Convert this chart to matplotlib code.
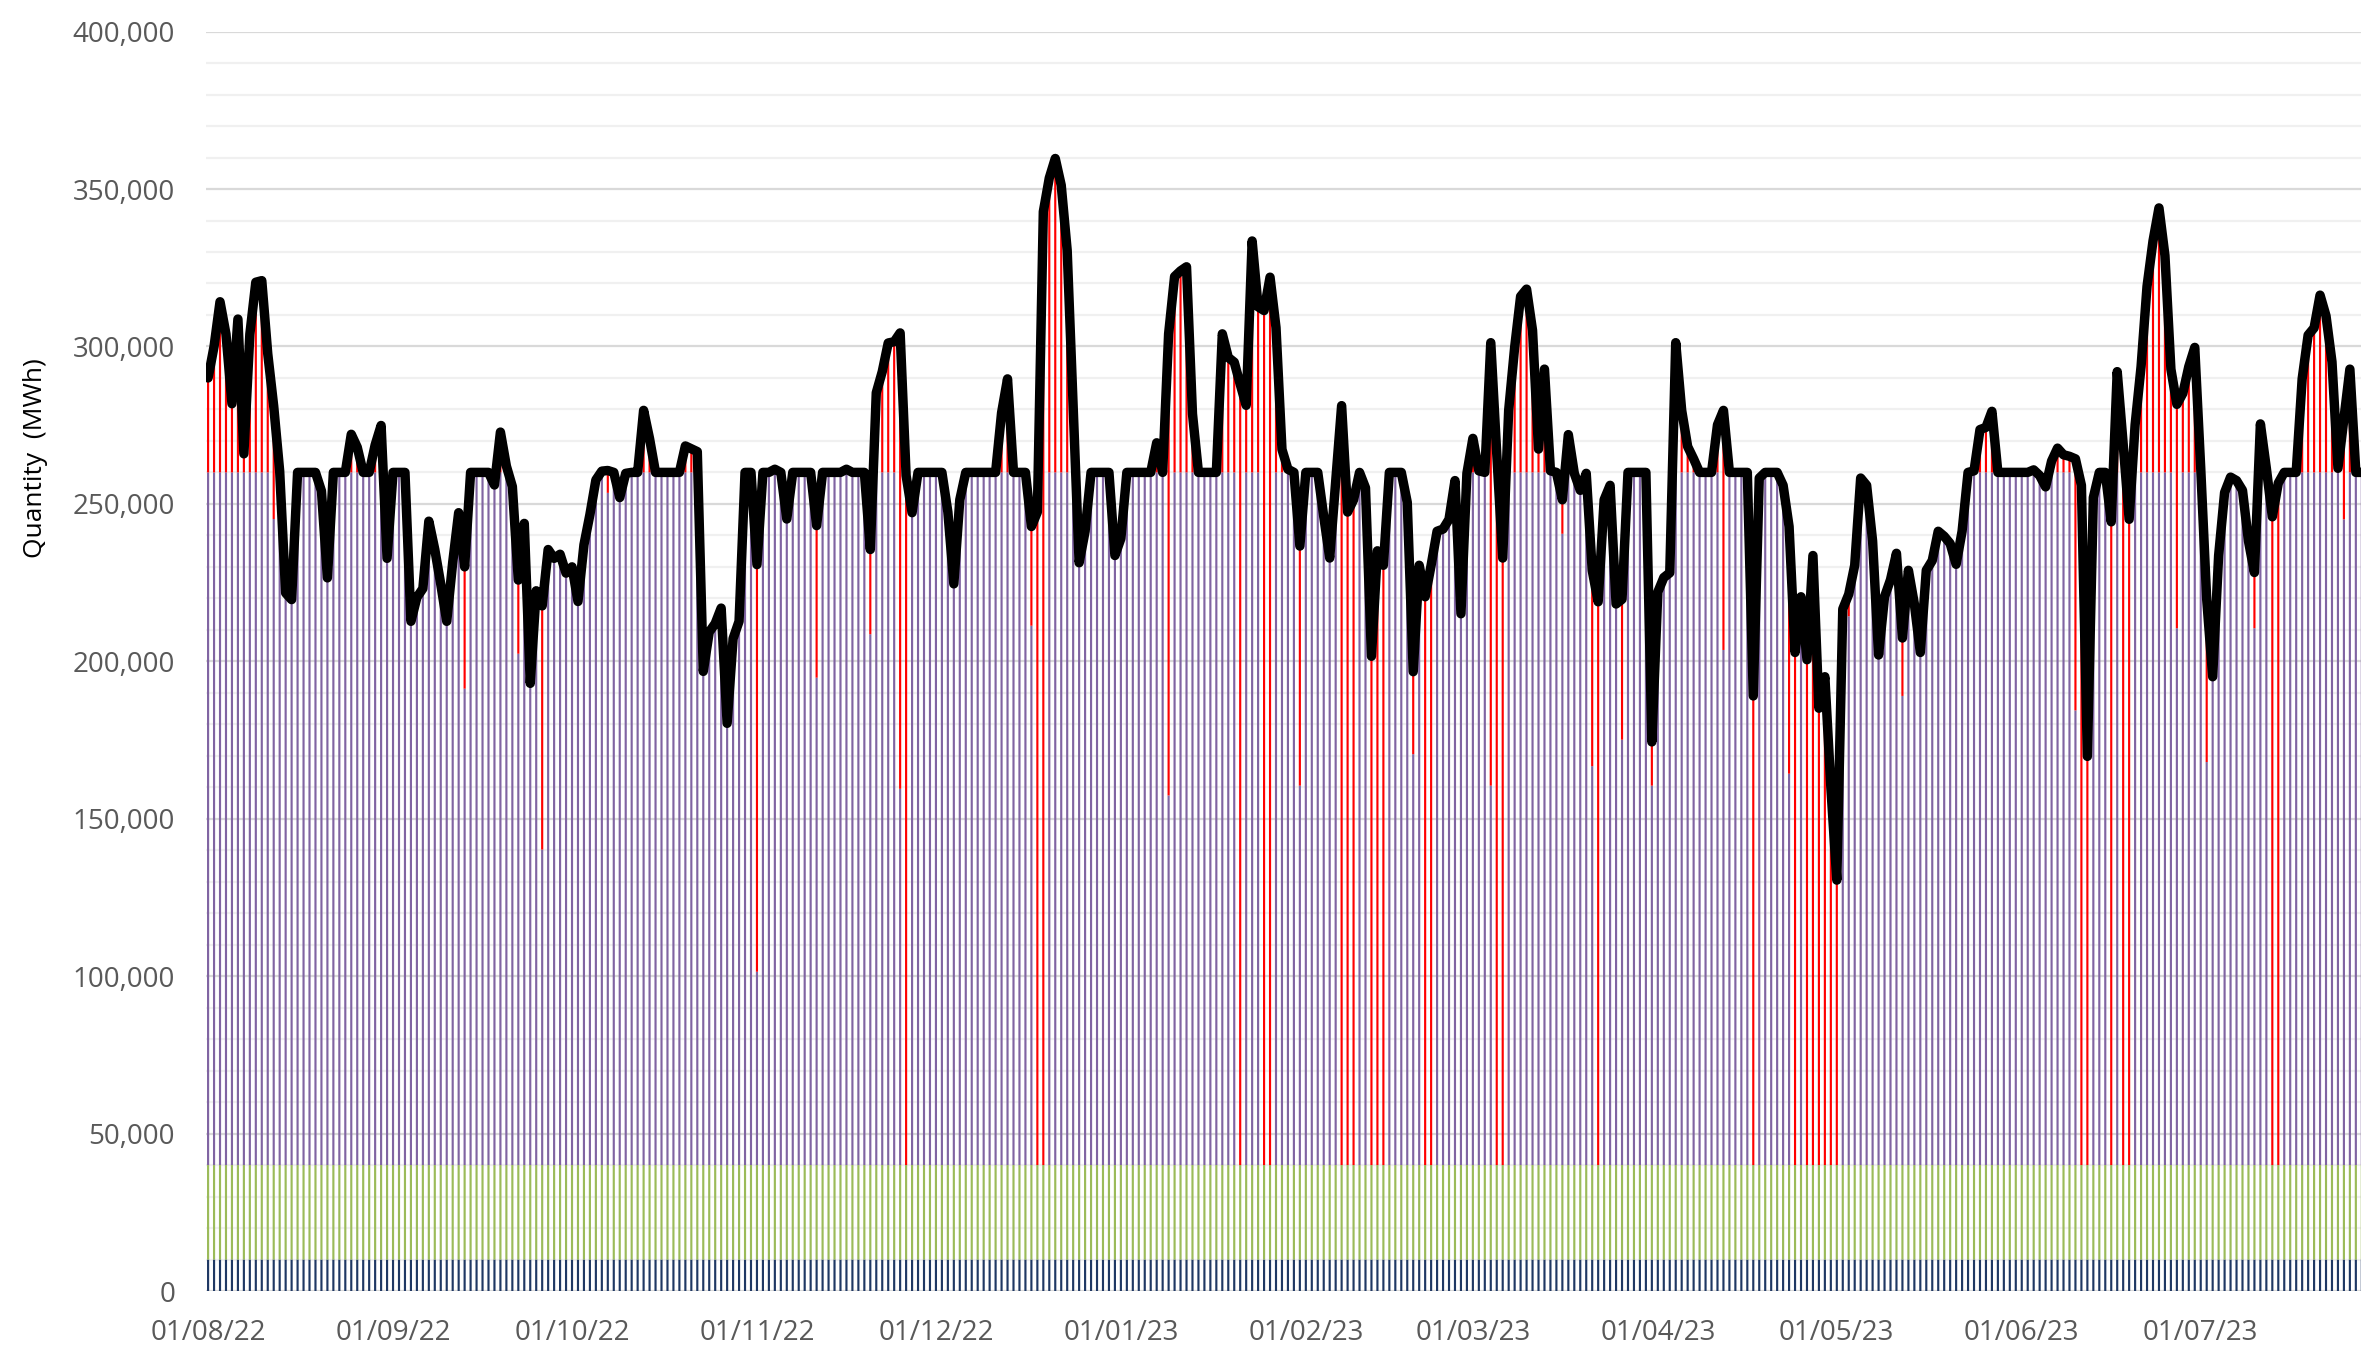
import matplotlib
matplotlib.use("Agg")
import matplotlib.pyplot as plt
import matplotlib.dates as mdates
from matplotlib.ticker import FuncFormatter, MultipleLocator
import numpy as np
import pandas as pd

# daily total quantity, thousands of MWh
aug22 = [290, 300, 314.2, 303.9, 281.8, 308.7, 265.9, 303.9, 320.4, 320.9, 297.7, 281, 260.4, 221.7,
         219.6, 260, 260, 260, 260, 254.1, 226.5, 260, 260, 260, 272.1, 268, 260, 260, 268.7, 274.9, 232.7]
sep22 = [260, 260, 260, 212.7, 220.3, 223.1, 244.5, 235.5, 224.5, 212.7, 231.4, 247.2, 230, 260, 260,
         260, 260, 256, 272.8, 262, 255.5, 225.8, 243.8, 193, 222.4, 217.6, 235.5, 232.7, 234, 228]
oct22 = [230, 219, 237, 246.6, 257.6, 260.4, 260.6, 260, 252, 259.7, 260, 260, 279.7, 270.7, 260, 260,
         260, 260, 260, 268.4, 267.5, 266.6, 196.8, 209.3, 212, 216.9, 180.3, 207.2, 212.7, 260, 260]
nov22 = [230.7, 260, 260, 261, 260, 245.2, 260, 260, 260, 260, 243.1, 260, 260, 260, 260, 261, 260, 260,
         260, 235.5, 285.3, 292, 301.1, 301.5, 304.3, 259, 247.2, 260, 260, 260]
dec22 = [260, 260, 247.4, 224.6, 251.3, 260, 260, 260, 260, 260, 260, 278.9, 289.7, 260, 260, 260, 242.8,
         247.4, 342.8, 353.5, 359.7, 351.2, 330.5, 281, 231.3, 241.3, 260, 260, 260, 260, 233.6]
jan23 = [239, 260, 260, 260, 260, 260, 269.4, 260, 304, 322.2, 324, 325.3, 278.6, 260, 260, 260, 260, 304,
         296.5, 295, 288, 281.3, 333.5, 312.6, 311.4, 322, 306, 267.3, 261, 260, 236.6]
feb23 = [260, 260, 260, 246, 232.8, 257, 281.2, 247.4, 251.3, 260, 255.1, 201.6, 235.1, 230.5, 260, 260,
         260, 250.5, 196.7, 230.5, 220.5, 230.5, 241.3, 242, 245.1, 257.4, 215.1, 259.7]
mar23 = [270.8, 260.5, 260, 301.2, 266, 232.8, 279.7, 299.7, 315.9, 318.2, 305.1, 267.4, 292.8, 260.5, 260,
         251.3, 272, 259.7, 254.3, 259.7, 228.9, 218.9, 251.3, 255.9, 218.2, 219.7, 260, 260, 260, 260, 174.4]
apr23 = [222, 226.6, 228.1, 301.2, 279.7, 268.2, 264.3, 260, 260, 260, 275.1, 279.7, 260, 260, 260, 260,
         189, 258.2, 260, 260, 260, 255.9, 242.8, 202.8, 220.5, 200.5, 233.6, 185.1, 195.1, 160]
may23 = [130.5, 216.6, 221.3, 230.5, 258.2, 255.9, 238.2, 202, 220.5, 225.9, 234.3, 207.4, 228.9, 218.2,
         202.8, 228.9, 232, 241.3, 239.7, 237.4, 230.8, 241.3, 260, 260.5, 273.6, 274.3, 279.4, 260, 260,
         260, 260]
jun23 = [260, 260, 260.8, 259, 255.4, 263.6, 267.7, 265.6, 265.1, 264.3, 255.9, 169.8, 252, 260, 260,
         244.3, 292, 269, 245.1, 275.1, 293.6, 319.1, 333.5, 344, 328.9, 292.8, 281.6, 285.1, 293.6, 299.7]
jul23 = [261.3, 219.7, 195.1, 233.6, 253.6, 258.5, 257.4, 254.3, 238.2, 228.2, 275.4, 261.3, 245.9, 256.6,
         260, 260, 260, 289.7, 303.6, 305.9, 316.3, 309.7, 295.1, 261.3, 277, 292.8, 260, 260]

# days (index from 01/08/22) where the red bar starts below 260,000: top of purple, thousands
purple_top_days = [11, 43, 52, 56, 67, 92, 102, 111, 116, 117, 138, 139, 140, 161, 173, 177, 178, 183,
                   190, 191, 192, 195, 196, 197, 202, 204, 205, 215, 216, 217, 227, 232, 233, 237, 242,
                   254, 259, 265, 266, 268, 269, 270, 271, 272, 273, 275, 284, 313, 314, 315, 319, 321,
                   322, 330, 335, 343, 346, 347, 358]
purple_top_vals = [245.2, 191.3, 202.4, 140.2, 253.5, 101.4, 194.8, 208.6, 159.5, 40, 211.3, 40, 40, 157.4,
                   40, 40, 40, 160.5, 40, 40, 40, 40, 40, 40, 170.5, 40, 40, 160.5, 40, 40, 240.5, 166.7,
                   40, 175.1, 160.5, 203.6, 40, 164.3, 40, 40, 40, 40, 40, 40, 40, 214.3, 189, 184.4, 40,
                   40, 40, 40, 40, 210.5, 168, 210.5, 40, 40, 245.1]

blue_level = 10000
green_level = 30000
purple_cap = 260000

total = np.array(aug22 + sep22 + oct22 + nov22 + dec22 + jan23 + feb23 + mar23 + apr23 + may23
                 + jun23 + jul23) * 1000
dates = pd.date_range("2022-08-01", periods=len(total), freq="D")

top = np.minimum(total, purple_cap).astype(float)
top[purple_top_days] = np.array(purple_top_vals) * 1000
base = blue_level + green_level
purple = top - base
red = total - top

W, H = 2361, 1346
fig = plt.figure(figsize=(W / 100, H / 100), dpi=100)
left, right, bottom, top_px = 205.7, W, 1291, 31.6
ax = fig.add_axes([left / W, (H - bottom) / H, (right - left) / W, (bottom - top_px) / H])

bw = 0.36
n = len(total)
bar_kw = dict(width=bw, zorder=2, snap=False, linewidth=0)
ax.bar(dates, np.full(n, blue_level), color="#1f3864", **bar_kw)
ax.bar(dates, np.full(n, green_level), bottom=blue_level, color="#9bbb59", **bar_kw)
ax.bar(dates, purple, bottom=base, color="#8064a2", **bar_kw)
ax.bar(dates, red, bottom=top, color="#ff0000", **bar_kw)
ax.plot(dates, total, color="black", lw=6.8, solid_joinstyle="round", solid_capstyle="round", zorder=5)

x0 = mdates.date2num(dates[0])
ax.set_xlim(x0 - 0.4, x0 - 0.4 + (right - left) / 5.966)
ax.set_ylim(0, 400000)

ax.yaxis.set_major_locator(MultipleLocator(50000))
ax.yaxis.set_minor_locator(MultipleLocator(10000))
ax.yaxis.set_major_formatter(FuncFormatter(lambda v, p: f"{int(v):,}"))
ax.grid(axis="y", which="major", color="#d9d9d9", lw=1.6, zorder=0)
ax.grid(axis="y", which="minor", color="#f0f0f0", lw=1.6, zorder=0)
ax.set_axisbelow(True)
ax.axhline(0, color="#d9d9d9", lw=2, zorder=1)

ax.xaxis.set_major_locator(mdates.MonthLocator(bymonthday=1))
ax.xaxis.set_major_formatter(mdates.DateFormatter("%d/%m/%y"))

for s in ax.spines.values():
    s.set_visible(False)
ax.tick_params(axis="both", which="both", length=0, labelsize=20, labelcolor="#595959")
ax.tick_params(axis="y", pad=22)
ax.tick_params(axis="x", pad=20)
for lab in ax.get_xticklabels() + ax.get_yticklabels():
    lab.set_family("Open Sans")

fig.text(36 / W, 1 - 458 / H, "Quantity  (MWh)", rotation=90, ha="center", va="center",
         fontsize=19, color="black", family="Open Sans")

fig.savefig("out.png", dpi=100)
